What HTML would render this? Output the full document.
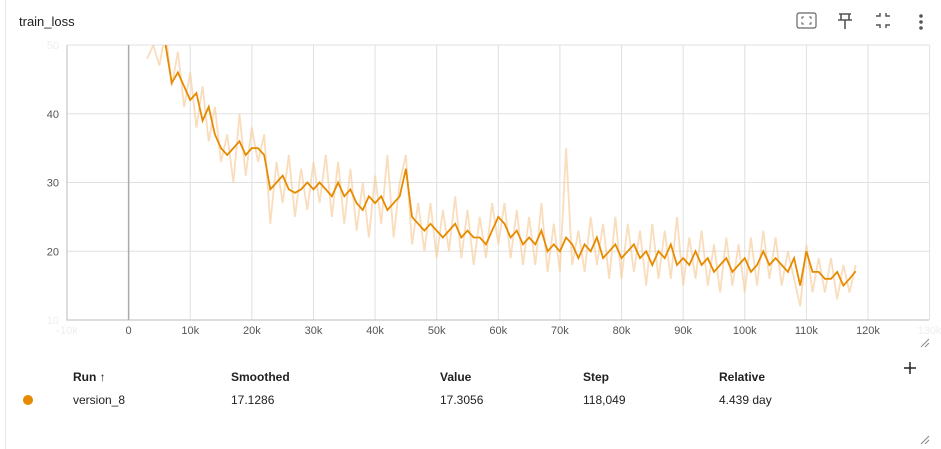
<!DOCTYPE html>
<html><head><meta charset="utf-8"><style>
body{margin:0;width:941px;height:449px;background:#fff;font-family:"Liberation Sans",sans-serif;overflow:hidden;position:relative}
.card{position:absolute;left:5px;top:0;width:936px;height:449px;border-left:1px solid #e6e6e6}
.t{position:absolute;font-size:12px;color:#212121}
.h{font-weight:bold}
</style></head><body>
<div class="card"></div>
<div class="t" style="left:19px;top:14px;font-size:13px">train_loss</div>
<svg width="941" height="60" style="position:absolute;left:0;top:0">
<g><rect x="797" y="13" width="19" height="15" rx="2" fill="none" stroke="#666" stroke-width="1.2"/><path d="M802 19v-2h2M811 19v-2h-2M802 22v2h2M811 22v2h-2" stroke="#666" fill="none"/></g>
<g stroke="#555" stroke-width="1.6" fill="none"><path d="M839 14h12M841 14v6M849 14v6M838 20h14M845 20v9"/></g>
<g stroke="#555" stroke-width="1.5" fill="none"><path d="M876 16h4v-3M890 16h-4v-3M876 25h4v3M890 25h-4v3"/></g>
<g fill="#555"><circle cx="921" cy="16" r="1.8"/><circle cx="921" cy="22" r="1.8"/><circle cx="921" cy="28" r="1.8"/></g>
</svg>
<svg id="chart" width="941" height="345" style="position:absolute;left:0;top:0"></svg>
<svg width="941" height="449" style="position:absolute;left:0;top:0;pointer-events:none">
<path d="M921 347l8-8M925 347l4-4" stroke="#888"/>
<path d="M921 444l8-8M925 444l4-4" stroke="#888"/>
<circle cx="28" cy="400" r="5" fill="#e68a00"/>
<path d="M904 368h12M910 362v12" stroke="#222" stroke-width="1.5"/>
</svg>
<div class="t h" style="left:73px;top:370px">Run ↑</div>
<div class="t h" style="left:231px;top:370px">Smoothed</div>
<div class="t h" style="left:440px;top:370px">Value</div>
<div class="t h" style="left:583px;top:370px">Step</div>
<div class="t h" style="left:719px;top:370px">Relative</div>
<div class="t" style="left:73px;top:393px">version_8</div>
<div class="t" style="left:231px;top:393px">17.1286</div>
<div class="t" style="left:440px;top:393px">17.3056</div>
<div class="t" style="left:583px;top:393px">118,049</div>
<div class="t" style="left:719px;top:393px">4.439 day</div>
<script>
const xTicks=[-10,0,10,20,30,40,50,60,70,80,90,100,110,120,130];
const xTickLabels=["-10k","0","10k","20k","30k","40k","50k","60k","70k","80k","90k","100k","110k","120k","130k"];
const yTicks=[10,20,30,40,50];
const rawStart=3;
const rawValues=[48,50,47,52,44,49,41,46,38,44,36,41,33,37,30,40,31,38,33,37,24,33,27,34,25,32,26,33,27,34,25,33,24,32,23,30,22,31,24,34,22,30,34,21,27,20,27,19,26,20,28,19,26,18,25,19,27,21,27,19,26,18,25,18,27,17,24,17,35,18,23,17,25,18,24,16,25,16,24,17,23,15,24,16,23,16,25,15,22,16,23,15,21,14,22,15,21,14,22,15,23,16,22,15,20,16,12,21,14,19,14,19,13,18,14,18];
const smoothStart=6;
const smoothValues=[50,44.5,46,44,42,43,39,41,37,35,34,35,36,34,35,35,34,29,30,31,29,28.5,29,30,29,30,29,28,30,28,29,27,26,28,27,28,26,27,28,32,25,24,23,24,23,22,23,24,22,23,22,22,21,23,25,24,22,23,21,22,21,23,20,21,20,22,21,19,21,20,22,19,20,21,19,20,21,19,20,18,20,19,21,18,19,18,20,18,19,17,18,19,17,18,19,17,18,20,18,19,18,17,19,15,20,17,17,16,16,17,15,16,17.1];
const L=67,R=929,T=45,B=320,X0=-10,X1=129.9,Y0=10,Y1=50;
const sx=v=>L+(v-X0)/(X1-X0)*(R-L), sy=v=>B-(v-Y0)/(Y1-Y0)*(B-T);
const svg=document.getElementById('chart'),NS='http://www.w3.org/2000/svg';
function mk(t,a){const e=document.createElementNS(NS,t);for(const k in a)e.setAttribute(k,a[k]);svg.appendChild(e);return e;}
const defs=mk('clipPath',{id:'clip'});const cr=document.createElementNS(NS,'rect');cr.setAttribute('x',L);cr.setAttribute('y',T);cr.setAttribute('width',R-L);cr.setAttribute('height',B-T);defs.appendChild(cr);
yTicks.forEach(v=>{const g=mk('line',{x1:L,x2:R,y1:sy(v),y2:sy(v),stroke:'#e0e0e0'});


const t=mk('text',{x:L-8,y:sy(v)+4,'text-anchor':'end','font-size':11,fill:(v==10||v==50)?'#eee':'#555','font-family':'Liberation Sans'});t.textContent=v;

});
xTicks.forEach((v,i)=>{const g=mk('line',{x1:sx(v),x2:sx(v),y1:T,y2:B,stroke:v==0?'#aaa':'#e0e0e0','stroke-width':v==0?1.5:1});


const t=mk('text',{x:sx(v),y:B+14,'text-anchor':'middle','font-size':11,fill:(v<0||v>120)?'#eee':'#555','font-family':'Liberation Sans'});t.textContent=xTickLabels[i];

});
const ax=mk('path',{d:`M${L} ${T}V${B}H${R}`,stroke:'#bbb',fill:'none'});


const rp=mk('path',{d:rawValues.map((v,i)=>(i?'L':'M')+sx(rawStart+i).toFixed(1)+' '+sy(v).toFixed(1)).join(''),stroke:'#f7cfa0','stroke-opacity':0.7,'stroke-width':1.8,fill:'none','clip-path':'url(#clip)'});


const sp=mk('path',{d:smoothValues.map((v,i)=>(i?'L':'M')+sx(smoothStart+i).toFixed(1)+' '+sy(v).toFixed(1)).join(''),stroke:'#e68a00','stroke-width':1.8,fill:'none','clip-path':'url(#clip)'});


</script>
</body></html>
